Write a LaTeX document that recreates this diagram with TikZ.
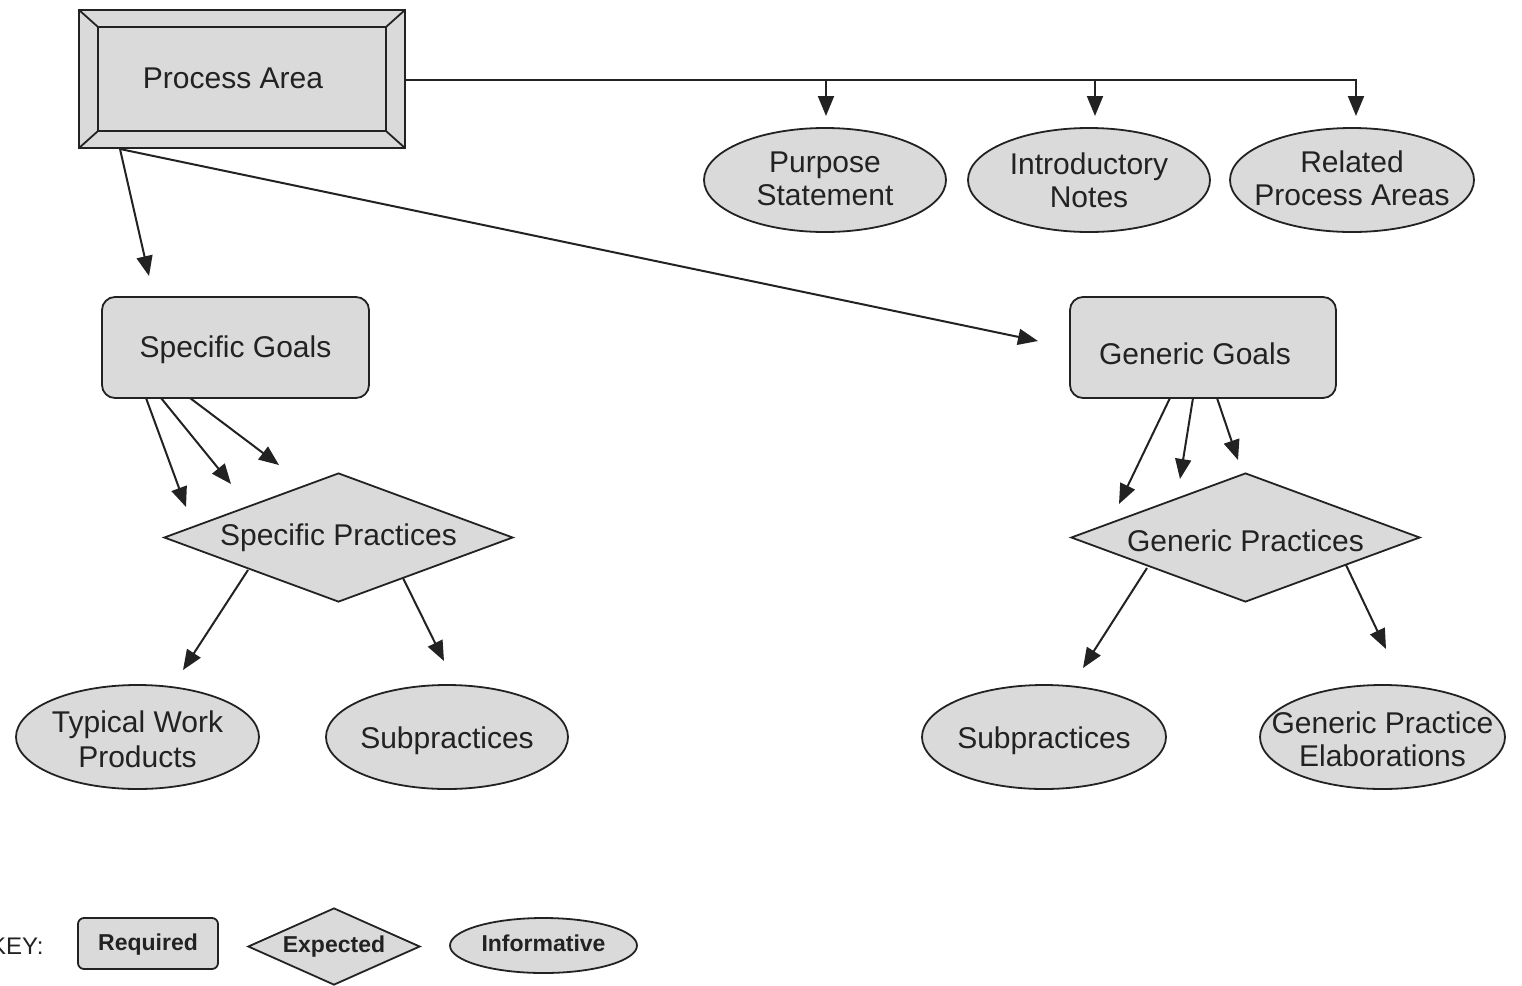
\documentclass[tikz,border=0pt]{standalone}
\usepackage{fontspec}
\setmainfont{Liberation Sans}
\usetikzlibrary{shapes.geometric,arrows.meta}
\definecolor{boxgray}{HTML}{DADADA}
\definecolor{inkgray}{HTML}{222222}
\begin{document}
\begin{tikzpicture}[x=0.5pt,y=-0.5pt,
  txt/.style={font=\fontsize{15}{16.5}\selectfont, align=center, text=inkgray},
  keytxt/.style={font=\bfseries\fontsize{11.5}{13}\selectfont, text=inkgray},
  outline/.style={fill=boxgray, draw=inkgray, line width=0.9pt},
  reqbox/.style={outline, rectangle, rounded corners=6.5pt, inner sep=0pt},
  expdiamond/.style={outline, diamond, inner sep=0pt},
  infoellipse/.style={outline, ellipse, inner sep=0pt},
  link/.style={line width=1pt, draw=inkgray, -{Triangle[length=10pt,width=8pt]}},
  plainlink/.style={line width=1pt, draw=inkgray}
]
\useasboundingbox (0,0) rectangle (1522,986);

% ---- Process Area: bevelled frame ----
\node[draw=none, minimum width=163pt, minimum height=69pt, inner sep=0pt] (pa) at (242,79) {};
\fill[boxgray] (pa.north west) rectangle (pa.south east);
\draw[inkgray, line width=1pt] (pa.north west) rectangle (pa.south east);
\draw[inkgray, line width=1pt] (98,27) rectangle (386,131);
\draw[inkgray, line width=0.9pt]
  (pa.north west) -- (98,27)
  (pa.north east) -- (386,27)
  (pa.south west) -- (98,131)
  (pa.south east) -- (386,131);
\node[txt] at (233,78) {Process Area};

% ---- informative items along the top ----
\node[infoellipse, minimum width=121pt, minimum height=52pt,
      label={[txt, yshift=0.5pt]center:Purpose\\Statement}] (ps) at (825,180) {};
\node[infoellipse, minimum width=121pt, minimum height=52pt,
      label={[txt]center:Introductory\\Notes}] (in) at (1089,180) {};
\node[infoellipse, minimum width=122pt, minimum height=52pt,
      label={[txt, yshift=1pt]center:Related\\Process Areas}] (rp) at (1352,180) {};

% ---- goals ----
\node[reqbox, minimum width=133.5pt, minimum height=50.5pt,
      label={[txt, yshift=-1pt]center:Specific Goals}] (sg) at (235.5,347.5) {};
\node[reqbox, minimum width=133pt, minimum height=50.5pt,
      label={[txt, xshift=-4pt, yshift=-3pt]center:Generic Goals}] (gg) at (1203,347.5) {};

% ---- practices ----
\node[expdiamond, minimum width=174.5pt, minimum height=64.5pt,
      label={[txt, yshift=0pt]center:Specific Practices}] (sp) at (338.5,537.5) {};
\node[expdiamond, minimum width=174.5pt, minimum height=64.5pt,
      label={[txt, yshift=-1.5pt]center:Generic Practices}] (gp) at (1245.5,537.5) {};

% ---- informative items at the bottom ----
\node[infoellipse, minimum width=121.5pt, minimum height=52pt,
      label={[txt, font=\fontsize{15}{17.5}\selectfont, yshift=-1pt]center:Typical Work\\Products}] (twp) at (137.5,737) {};
\node[infoellipse, minimum width=121pt, minimum height=52pt,
      label={[txt, yshift=-2pt]center:Subpractices}] (ssub) at (447,737) {};
\node[infoellipse, minimum width=122pt, minimum height=52pt,
      label={[txt, yshift=-2pt]center:Subpractices}] (gsub) at (1044,737) {};
\node[infoellipse, minimum width=122.5pt, minimum height=52pt,
      label={[txt, yshift=-1pt]center:Generic Practice\\Elaborations}] (gpe) at (1382.5,737) {};

% ---- connector end points ----
\coordinate (busPS) at (826,80);
\coordinate (busIN) at (1095,80);
\coordinate (tipPS) at (826,116);
\coordinate (tipIN) at (1095,116);
\coordinate (tipRP) at (1356,116);
\coordinate (paFoot) at (120,149);
\coordinate (tipSG) at (149,276);
\coordinate (tipGG) at (1038,341);

\coordinate (sgA) at (146,398);
\coordinate (sgB) at (161,398);
\coordinate (sgC) at (190,398);
\coordinate (tipSgA) at (186,507);
\coordinate (tipSgB) at (231,484);
\coordinate (tipSgC) at (279,465);

\coordinate (ggA) at (1170,398);
\coordinate (ggB) at (1193,398);
\coordinate (ggC) at (1217,398);
\coordinate (tipGgA) at (1119,504);
\coordinate (tipGgB) at (1180,479);
\coordinate (tipGgC) at (1238,460);

\coordinate (spL) at (248,570);
\coordinate (spR) at (403,578);
\coordinate (tipSpL) at (183,670);
\coordinate (tipSpR) at (444,661);

\coordinate (gpL) at (1147,568);
\coordinate (gpR) at (1346,565);
\coordinate (tipGpL) at (1083,668);
\coordinate (tipGpR) at (1386,649);

% ---- connectors ----
\draw[link] (pa.east |- busPS) -| (tipRP);
\draw[link] (busPS) -- (tipPS);
\draw[link] (busIN) -- (tipIN);
\draw[link] (paFoot) -- (tipSG);
\draw[link] (paFoot) -- (tipGG);

\draw[link] (sgA) -- (tipSgA);
\draw[link] (sgB) -- (tipSgB);
\draw[link] (sgC) -- (tipSgC);
\draw[link] (ggA) -- (tipGgA);
\draw[link] (ggB) -- (tipGgB);
\draw[link] (ggC) -- (tipGgC);

\draw[link] (spL) -- (tipSpL);
\draw[link] (spR) -- (tipSpR);
\draw[link] (gpL) -- (tipGpL);
\draw[link] (gpR) -- (tipGpR);

% ---- key ----
\node[font=\fontsize{12}{14}\selectfont, text=inkgray, anchor=west] (keylbl) at (-17,946) {KEY:};
\node[reqbox, rounded corners=3pt, minimum width=70pt, minimum height=25.5pt,
      label={[keytxt, yshift=-0.5pt]center:Required}] (kreq) at (148,943.5) {};
\node[expdiamond, minimum width=86pt, minimum height=38.5pt,
      label={[keytxt]center:Expected}] (kexp) at (334,946.5) {};
\node[infoellipse, minimum width=93.5pt, minimum height=27.5pt,
      label={[keytxt, yshift=1pt]center:Informative}] (kinf) at (543.5,945.5) {};
\end{tikzpicture}
\end{document}
